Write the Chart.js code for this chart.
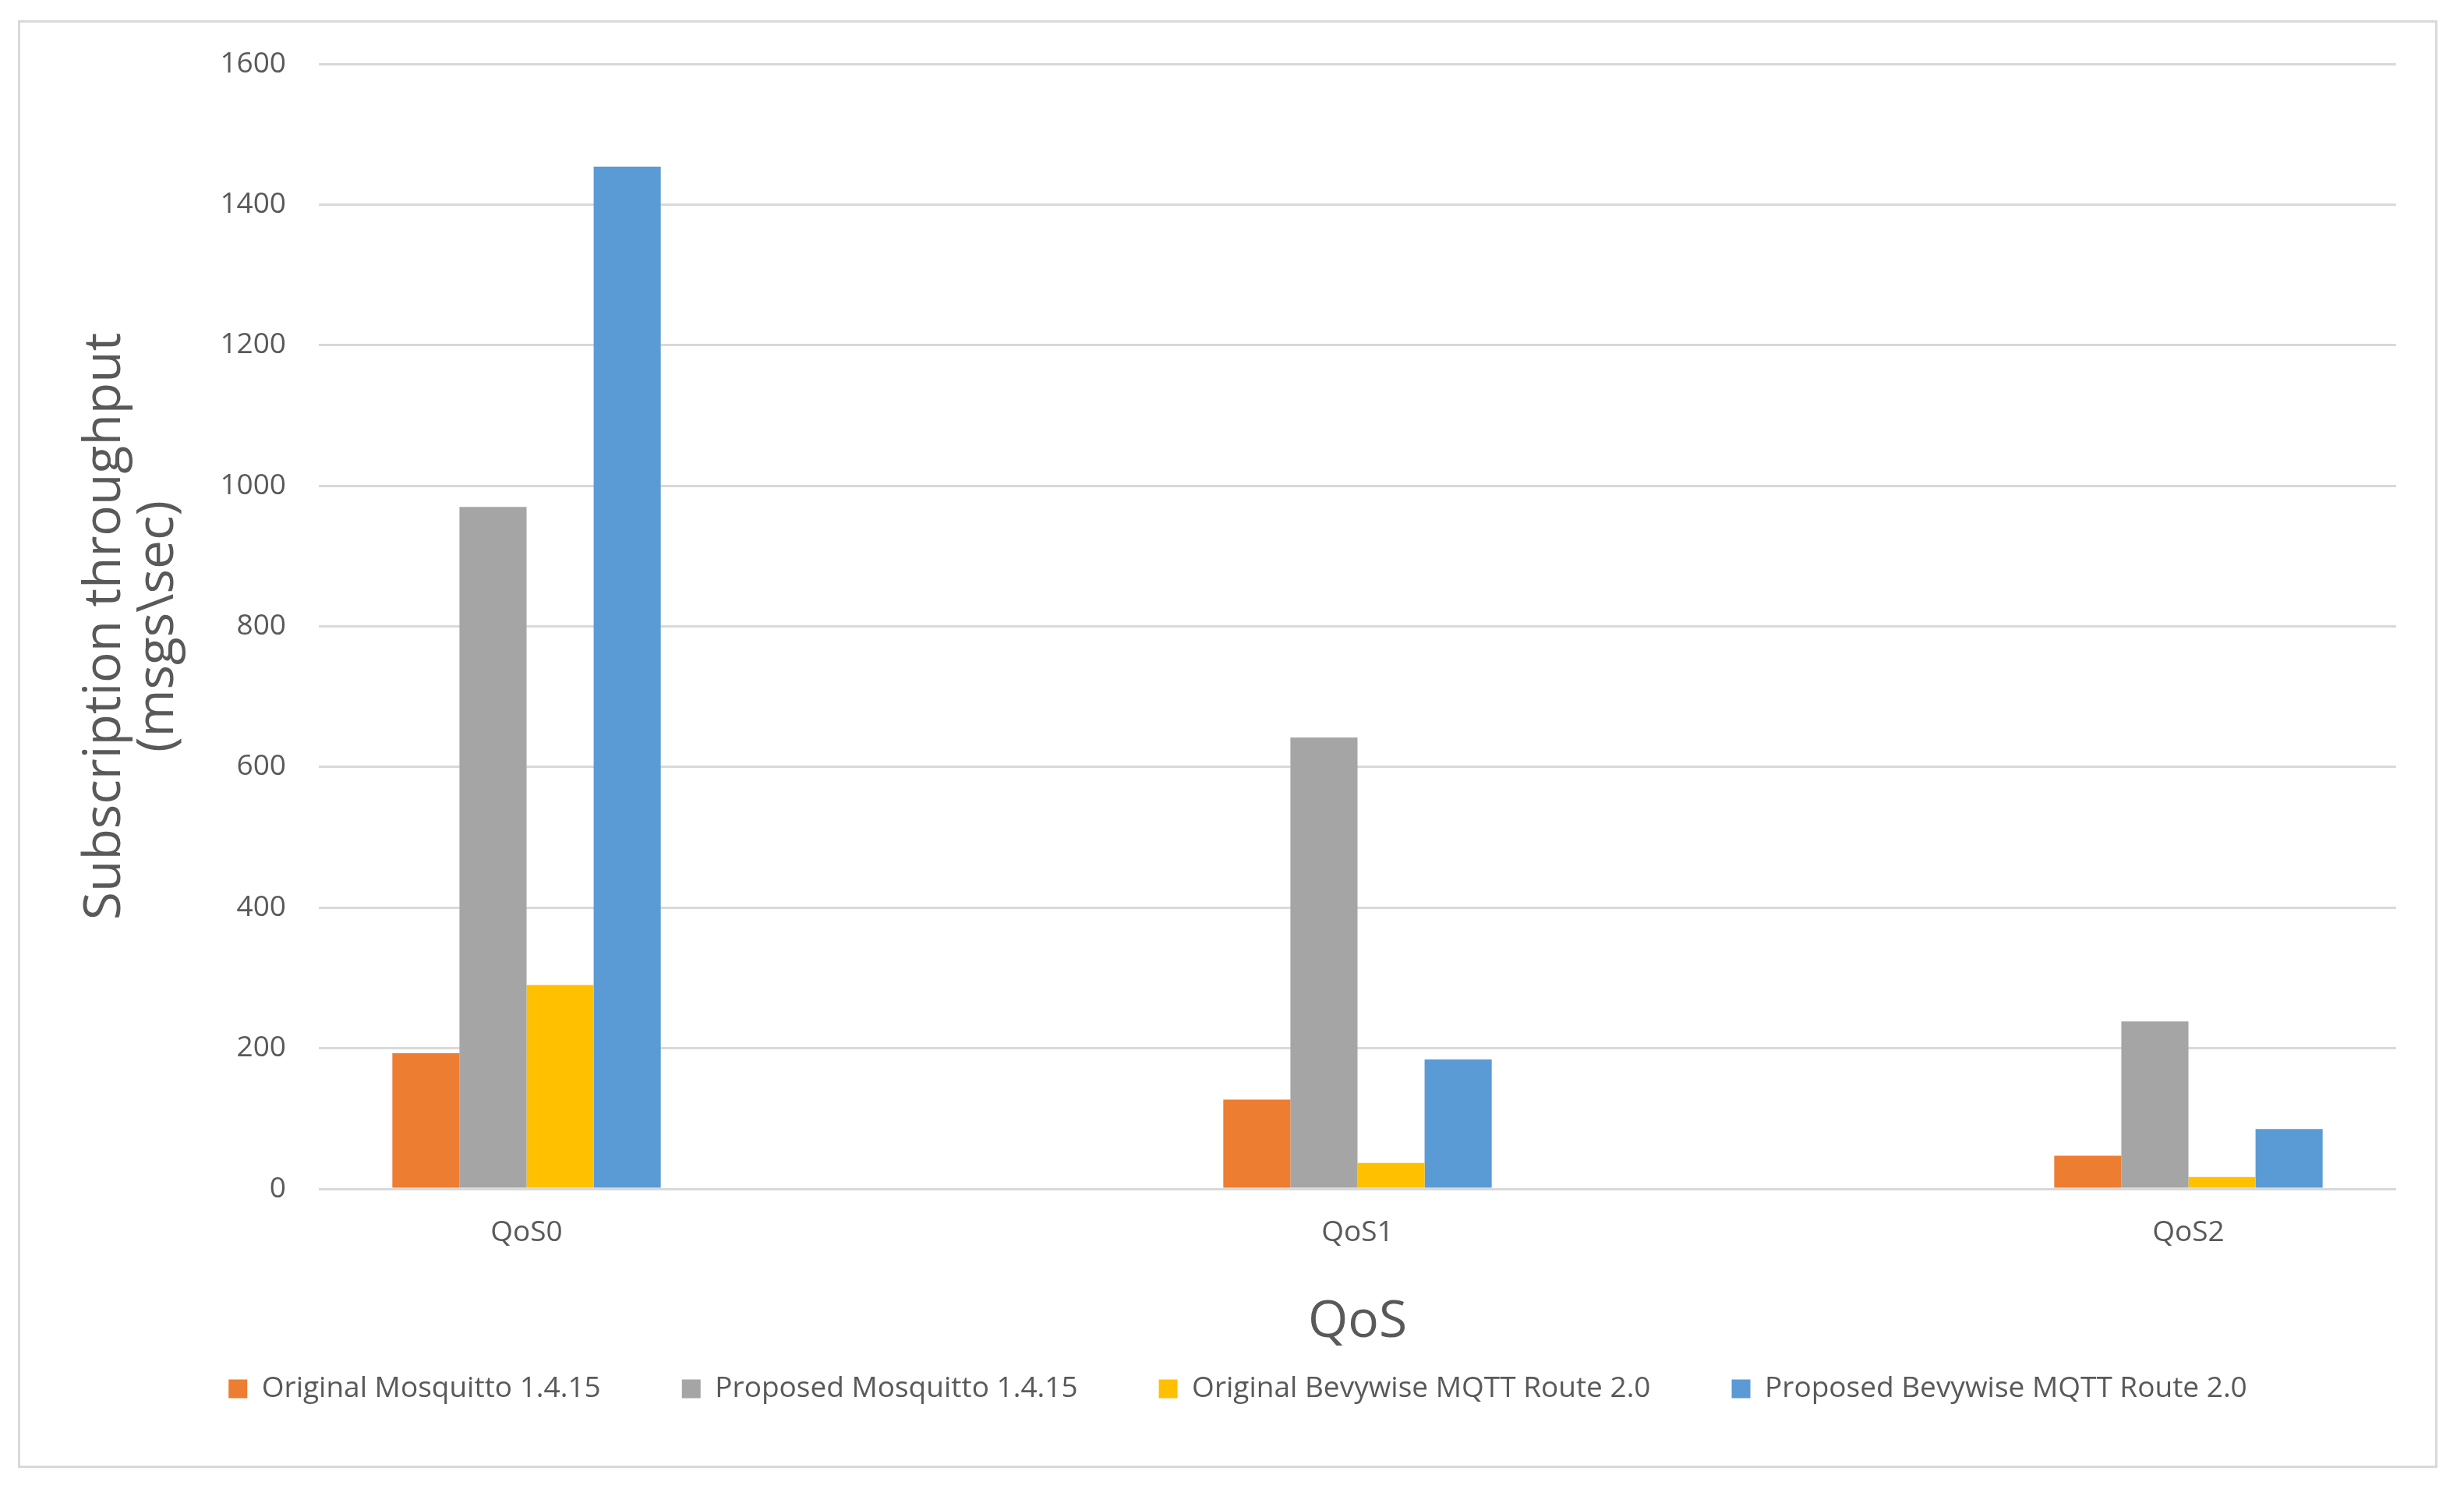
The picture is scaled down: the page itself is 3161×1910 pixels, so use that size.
<!DOCTYPE html>
<html>
<head>
<meta charset="utf-8">
<script src="https://cdn.jsdelivr.net/npm/chart.js@4"></script>
<style>
  html, body { margin: 0; padding: 0; background: #ffffff; }
  #wrap { position: absolute; left: 0; top: 0; width: 3161px; height: 1910px; }
  #frame { position: absolute; left: 23px; top: 26px; width: 3104px; height: 1857px; box-sizing: border-box; border: 3px solid #d9d9d9; pointer-events: none; }
</style>
</head>
<body>
<div id="wrap"><canvas id="c"></canvas></div>
<div id="frame"></div>
<script>
const categories = ['QoS0', '', 'QoS1', '', 'QoS2'];
const seriesNames = ['Original Mosquitto 1.4.15', 'Proposed Mosquitto 1.4.15', 'Original Bevywise MQTT Route 2.0', 'Proposed Bevywise MQTT Route 2.0'];
const originalMosquitto = [193, null, 127, null, 47];
const proposedMosquitto = [970, null, 642, null, 238];
const originalBevywise = [290, null, 37, null, 17];
const proposedBevywise = [1454, null, 184, null, 85];
const yTitle = ['Subscription throughput', '(msgs\\sec)'];
const xTitle = 'QoS';
const yMin = 0, yMax = 1600, yStep = 200;

const colors = ['#ED7D31', '#A5A5A5', '#FFC000', '#5B9BD5'];
const textColor = '#595959';
const FONT = '"Open Sans", "Liberation Sans", sans-serif';

const values = [originalMosquitto, proposedMosquitto, originalBevywise, proposedBevywise];

new Chart(document.getElementById('c'), {
  type: 'bar',
  data: {
    labels: categories,
    datasets: values.map((v, i) => ({
      label: seriesNames[i],
      data: v,
      backgroundColor: colors[i],
      borderWidth: 0,
      categoryPercentage: 0.646,
      barPercentage: 1.0
    }))
  },
  options: {
    responsive: true,
    maintainAspectRatio: false,
    animation: false,
    devicePixelRatio: 1,
    layout: { padding: { left: 102, right: 87, top: 82, bottom: 100 } },
    plugins: {
      tooltip: { enabled: false },
      legend: {
        position: 'bottom',
        labels: {
          boxWidth: 24, boxHeight: 24, padding: 104,
          color: textColor,
          font: { family: FONT, size: 37 }
        }
      }
    },
    scales: {
      x: {
        grid: { display: false, drawTicks: false },
        border: { display: false },
        ticks: { color: textColor, font: { family: FONT, size: 37 }, autoSkip: false, maxRotation: 0, padding: 34 },
        title: { display: true, text: xTitle, color: textColor, font: { family: FONT, size: 66, lineHeight: 1.1 }, padding: { top: 0, bottom: -74 } },
        afterFit: (s) => { s.height = 134; }
      },
      y: {
        min: yMin, max: yMax,
        grid: { color: '#d9d9d9', lineWidth: 3, drawTicks: false },
        border: { display: false },
        ticks: { stepSize: yStep, color: textColor, font: { family: FONT, size: 37 }, padding: 42, callback: (v) => String(v) },
        title: { display: true, text: yTitle, color: textColor, font: { family: FONT, size: 66, lineHeight: 1.02 }, padding: { top: 0, bottom: 4 } },
        afterFit: (s) => { s.width = 409 - 102; }
      }
    }
  }
});
</script>
</body>
</html>
